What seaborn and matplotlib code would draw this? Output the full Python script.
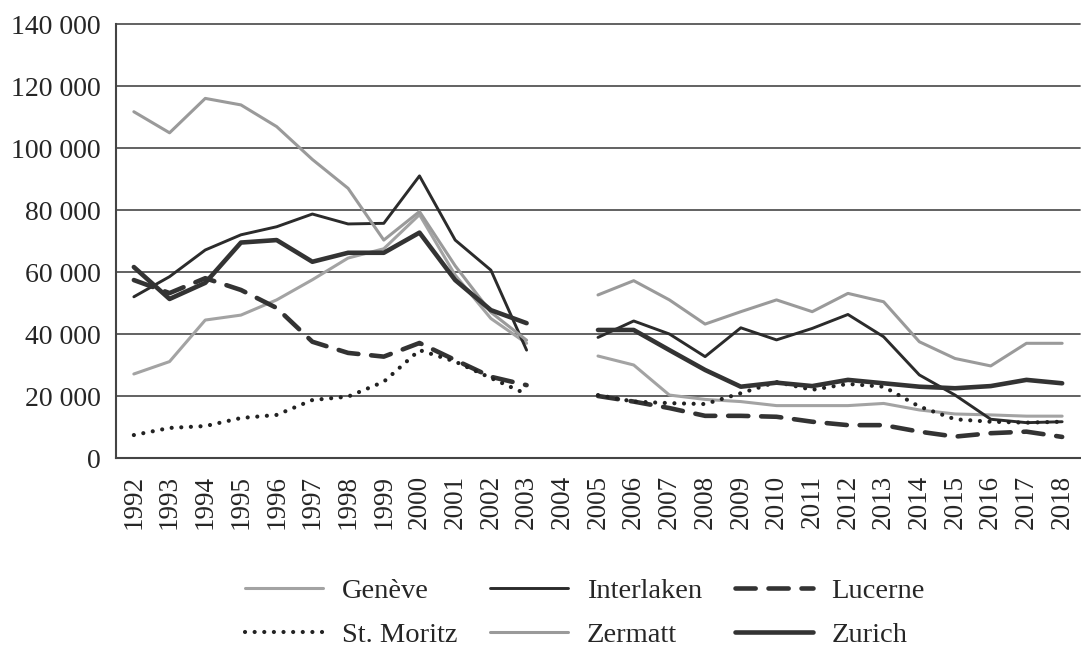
import numpy as np
import pandas as pd
import matplotlib
matplotlib.use("Agg")
import matplotlib.pyplot as plt
import seaborn as sns

# --- data ---
years = list(range(1992, 2019))
nan = np.nan

geneve = [27100, 31100, 44500, 46100, 51000, 57500, 64500, 67500, 78500, 59000, 45000, 37000,
          nan,
          32900, 30000, 20300, 18900, 18200, 16900, 16900, 16900, 17600, 15500, 14200, 13900, 13500, 13500]
interlaken = [52000, 58500, 67100, 72000, 74600, 78700, 75500, 75700, 91000, 70300, 60600, 34800,
              nan,
              38900, 44200, 40000, 32700, 42000, 38100, 41800, 46300, 39100, 26800, 20300, 12500, 11400, 11700]
lucerne = [57400, 53200, 58000, 54200, 48400, 37500, 33900, 32700, 37100, 31600, 26200, 23500,
           nan,
           20000, 18200, 16100, 13600, 13600, 13300, 11700, 10600, 10600, 8500, 6900, 8000, 8500, 6800]
st_moritz = [7400, 9700, 10300, 12900, 13900, 18700, 19800, 24600, 34800, 31100, 25800, 20600,
             nan,
             20300, 18200, 17700, 17400, 20900, 24500, 22000, 23900, 23000, 16600, 12500, 11700, 11400, 11700]
zermatt = [111700, 104900, 116000, 113900, 106900, 96300, 87000, 70300, 79500, 62000, 47000, 38000,
           nan,
           52600, 57200, 51000, 43200, 47200, 51000, 47200, 53100, 50400, 37500, 32100, 29700, 37000, 37000]
zurich = [61600, 51300, 56500, 69500, 70300, 63300, 66200, 66200, 72700, 57400, 47700, 43500,
          nan,
          41300, 41300, 34800, 28400, 23000, 24300, 23200, 25200, 24100, 23000, 22500, 23200, 25200, 24100]

cities = ["Genève", "Interlaken", "Lucerne", "St. Moritz", "Zermatt", "Zurich"]
series = [geneve, interlaken, lucerne, st_moritz, zermatt, zurich]

# long table, split into segments around the missing year
rows = []
for city, vals in zip(cities, series):
    seg = 0
    for yr, v in zip(years, vals):
        if np.isnan(v):
            seg += 1
            continue
        rows.append({"year": yr, "value": v, "city": city, "segment": seg})
df = pd.DataFrame(rows)

styles = {
    "Genève":     dict(color="#a3a3a3", linewidth=2.2, linestyle="-"),
    "Interlaken": dict(color="#2b2b2b", linewidth=2.1, linestyle="-"),
    "Lucerne":    dict(color="#333333", linewidth=3.3, linestyle=(0, (4.4, 2.8)), dash_capstyle="round"),
    "St. Moritz": dict(color="#222222", linewidth=3.0, linestyle=(0, (0.01, 2.3)), dash_capstyle="round"),
    "Zermatt":    dict(color="#9a9a9a", linewidth=2.2, linestyle="-"),
    "Zurich":     dict(color="#333333", linewidth=3.3, linestyle="-"),
}

sns.set_style("white")
plt.rcParams["font.family"] = ["Liberation Serif", "DejaVu Serif"]

fig = plt.figure(figsize=(10.81, 6.53), dpi=100)
ax = fig.add_axes([116 / 1081, 1 - 458 / 653, (1080 - 116) / 1081, (458 - 24) / 653])

handles = {}
for city in cities:
    n0 = len(ax.lines)
    sns.lineplot(data=df[df["city"] == city], x="year", y="value", units="segment",
                 estimator=None, legend=False, ax=ax, zorder=3, **styles[city])
    handles[city] = ax.lines[n0]

# axes look
ax.set_xlim(1991.5, 2018.5)
ax.set_ylim(0, 140000)
ax.set_yticks(range(0, 140001, 20000))
ax.set_yticklabels([f"{v:,}".replace(",", " ") for v in range(0, 140001, 20000)], fontsize=20)
ax.set_xticks(years)
ax.set_xticklabels([str(y) for y in years], rotation=90, fontsize=19.5)
ax.set_xticks(np.arange(1991.5, 2018.6, 1), minor=True)
ax.tick_params(axis="x", which="major", length=0, pad=12)
ax.tick_params(axis="x", which="minor", length=6, width=1.3, color="#444444", direction="out")
ax.tick_params(axis="y", length=6, width=1.3, color="#444444", direction="out", pad=5)
ax.grid(axis="y", color="#555555", linewidth=1.3)
for ln in ax.get_ygridlines():
    ln.set_clip_on(False)
ax.set_axisbelow(True)
sns.despine(ax=ax, top=True, right=True)
for side in ["left", "bottom"]:
    ax.spines[side].set_color("#444444")
    ax.spines[side].set_linewidth(1.5)
ax.set_xlabel("")
ax.set_ylabel("")

# legend: two rows, read row-wise
order = ["Genève", "St. Moritz", "Interlaken", "Zermatt", "Lucerne", "Zurich"]
fig.legend([handles[c] for c in order], order, loc="center", ncol=3,
           bbox_to_anchor=(585 / 1081, 1 - 613 / 653), frameon=False, fontsize=20.5,
           handlelength=2.75, handletextpad=0.65, columnspacing=1.15, labelspacing=0.65)

fig.savefig("out.png", dpi=100)
